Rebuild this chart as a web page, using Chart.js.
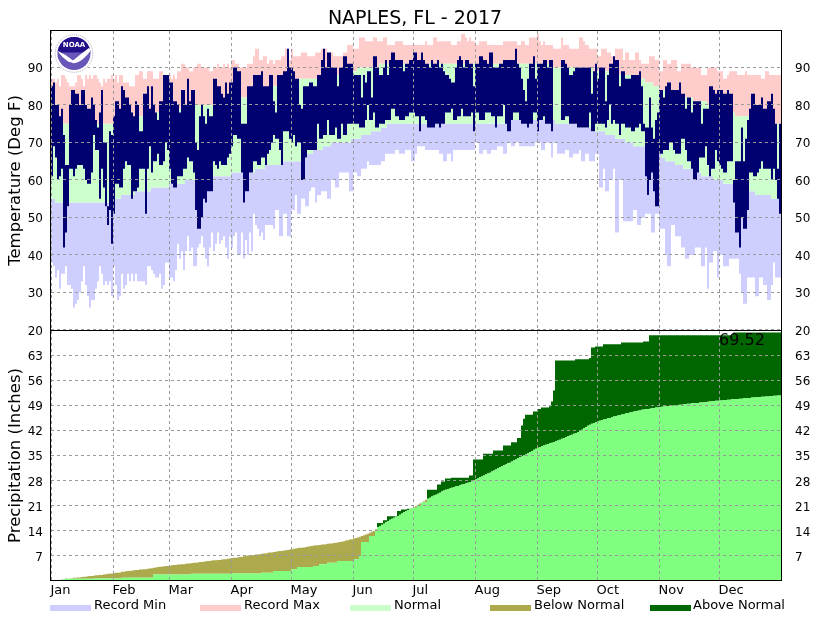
<!DOCTYPE html>
<html>
<head>
<meta charset="utf-8">
<title>NAPLES, FL - 2017</title>
<script src="https://cdn.jsdelivr.net/npm/chart.js@4/dist/chart.umd.min.js"></script>
<style>
  html, body { margin: 0; padding: 0; background: #fff; }
  canvas { display: block; }
</style>
</head>
<body>
<canvas id="climateChart" width="830" height="620"></canvas>
<script>
// Tick labels
const months = ['Jan', 'Feb', 'Mar', 'Apr', 'May', 'Jun', 'Jul', 'Aug', 'Sep', 'Oct', 'Nov', 'Dec'];
const monthStarts = [0, 31, 59, 90, 120, 151, 181, 212, 243, 273, 304, 334];
const tempTicks = [20, 30, 40, 50, 60, 70, 80, 90];
const precipTicks = [7, 14, 21, 28, 35, 42, 49, 56, 63];
const legendNames = ['Record Min', 'Record Max', 'Normal', 'Below Normal', 'Above Normal'];
const precipTotal = '69.52';

// Daily temperatures (Deg F), ten days per row
const recordMin = [
  38,37,34,36,31,35,35,37,32,32, 31,26,27,28,30,33,37,32,29,26,
  28,28,31,33,37,35,32,33,32,33, 29,37,32,28,29,35,31,32,35,33,
  35,33,35,33,33,33,33,32,37,37, 36,35,34,34,35,31,32,38,38,34,
  34,33,36,43,39,41,36,41,45,41, 42,37,37,42,43,45,42,39,37,42,
  46,41,43,46,43,44,45,42,39,45, 42,45,46,40,40,46,39,44,40,46,
  41,51,48,47,45,46,44,48,48,48, 48,47,52,52,45,45,51,51,45,45,
  52,52,56,51,51,55,55,53,53,57, 58,58,54,56,56,57,57,57,55,55,
  60,60,58,58,62,62,62,62,62,57, 57,62,62,61,61,63,63,63,65,64,
  64,64,64,64,64,65,65,67,67,67, 67,67,68,68,67,67,67,68,68,68,
  65,65,67,69,69,69,69,68,68,68, 68,68,68,68,67,67,65,65,67,67,
  65,68,68,68,68,68,68,68,68,68, 68,68,70,70,67,67,68,68,67,67,
  68,68,68,69,69,69,67,67,70,70, 69,69,70,70,69,69,69,69,69,69,
  69,69,70,70,70,68,68,70,70,70, 66,70,70,67,67,67,67,68,68,66,
  66,67,67,67,68,65,65,67,67,65, 65,65,67,67,58,58,63,57,57,60,
  60,63,46,46,60,60,49,49,49,49, 49,52,52,48,48,50,50,51,51,51,
  46,46,51,51,47,47,47,40,37,37, 48,48,45,45,45,42,42,39,39,40,
  40,40,42,42,42,37,37,42,31,38, 38,41,41,34,40,40,37,37,37,39,
  39,39,39,39,35,30,27,27,34,34, 34,34,29,29,34,34,32,32,28,28,
  32,38,34,34,34
];
const recordMax = [
  87,87,86,87,85,88,88,87,86,85, 85,85,86,88,88,87,85,88,87,88,
  87,88,88,87,86,85,87,86,87,87, 88,87,88,86,88,88,86,86,86,85,
  85,85,88,88,89,89,87,87,89,89, 89,87,87,87,89,89,88,88,87,88,
  87,88,87,89,89,91,91,90,90,89, 89,90,90,91,91,90,90,90,90,89,
  89,90,90,91,90,90,91,90,91,90, 92,92,91,91,90,90,90,90,91,91,
  91,93,95,95,92,92,93,93,91,92, 92,91,92,92,92,93,93,95,95,92,
  95,93,93,93,93,94,94,94,93,93, 93,93,94,94,94,95,95,95,94,94,
  94,93,93,93,93,93,94,94,96,96, 96,95,95,95,98,98,98,97,97,97,
  97,98,98,97,97,97,98,98,96,96, 96,96,97,97,97,97,96,96,96,96,
  96,96,96,96,96,96,96,97,96,96, 96,98,98,97,97,97,97,97,97,97,
  96,96,96,97,97,99,99,98,97,98, 97,97,96,96,97,97,97,97,96,96,
  96,96,96,96,96,96,97,97,97,97, 97,97,97,96,96,97,97,96,96,98,
  98,98,98,99,97,96,97,96,96,96, 96,95,95,95,95,98,96,96,96,95,
  95,95,95,95,98,98,97,96,96,95, 95,95,95,93,93,95,95,95,94,94,
  93,92,95,95,95,95,92,94,94,92, 92,92,94,94,92,91,91,91,91,93,
  93,93,92,92,89,89,92,92,91,91, 92,92,92,89,89,91,91,91,91,91,
  90,90,90,90,90,88,88,88,90,90, 90,90,90,89,89,89,87,87,88,89,
  89,89,89,88,88,88,88,89,88,88, 88,88,88,88,88,87,87,89,89,88,
  88,88,88,88,88
];
const normalLow = [
  55,55,54,54,54,54,54,54,54,54, 54,54,54,54,54,54,54,54,54,54,
  54,54,54,54,54,54,54,54,54,54, 54,54,55,55,55,56,56,56,56,56,
  56,56,57,57,57,57,57,57,57,57, 58,58,58,58,58,58,58,58,58,59,
  59,59,59,59,59,59,59,60,60,60, 60,60,60,60,60,60,60,60,60,60,
  61,61,61,61,61,61,61,61,61,61, 62,62,62,62,62,62,62,62,62,62,
  62,62,63,63,63,63,63,64,64,64, 64,64,64,64,64,64,65,65,65,65,
  65,65,65,65,65,65,66,66,67,67, 67,68,68,68,68,68,69,69,69,69,
  70,70,70,70,70,70,70,70,70,70, 71,71,71,71,71,72,72,72,72,72,
  73,73,73,73,73,74,74,74,75,75, 75,75,75,75,75,75,75,75,75,75,
  75,75,75,75,75,75,75,75,75,75, 75,75,75,75,75,75,75,75,75,75,
  75,75,75,75,75,75,75,75,75,75, 75,75,75,75,75,75,75,75,75,75,
  75,75,75,75,75,75,75,75,75,75, 76,76,76,76,76,75,75,75,75,75,
  76,76,76,76,76,76,76,76,76,76, 76,76,75,75,75,75,75,75,75,75,
  75,75,75,74,74,74,74,74,74,74, 73,73,73,73,73,73,73,72,72,72,
  72,72,71,71,71,71,71,70,70,70, 70,69,69,69,69,69,69,68,68,68,
  68,68,68,67,67,66,66,65,65,65, 65,65,64,64,64,64,63,63,63,63,
  63,62,62,62,62,61,61,61,61,61, 61,60,60,60,60,60,59,59,59,59,
  59,59,59,59,58,58,58,58,58,57, 57,57,56,56,56,56,56,56,56,56,
  55,55,55,55,55
];
const normalHigh = [
  75,75,75,75,75,75,75,75,75,75, 75,75,75,75,75,75,75,75,75,75,
  75,75,75,75,75,75,75,75,75,75, 75,75,75,75,75,75,75,75,76,76,
  76,76,76,77,77,77,77,77,77,77, 77,78,78,78,78,78,78,78,78,78,
  78,79,79,79,79,79,79,79,79,79, 79,80,80,80,80,80,80,80,80,80,
  80,80,80,81,81,81,81,81,81,81, 81,82,82,82,82,82,82,82,82,82,
  83,83,83,83,83,83,84,84,84,84, 84,85,85,85,85,85,85,85,86,86,
  86,86,86,86,87,87,87,87,87,87, 87,87,87,87,87,87,87,88,88,88,
  88,88,88,88,88,89,89,89,89,89, 89,89,89,90,90,90,90,90,90,90,
  90,90,90,90,91,91,91,91,91,91, 91,91,91,91,91,91,91,91,91,91,
  91,91,91,91,91,91,91,91,91,91, 91,91,91,91,91,91,91,91,91,91,
  91,91,91,91,91,91,91,91,91,91, 91,91,91,91,91,91,91,91,91,91,
  91,91,91,91,91,91,91,91,91,91, 91,91,91,91,91,91,91,91,91,91,
  91,91,91,91,91,91,91,91,91,91, 90,90,90,90,90,90,90,90,90,90,
  90,90,90,90,90,90,90,90,90,90, 90,89,89,89,89,89,89,89,89,89,
  89,89,89,88,88,88,88,88,88,88, 88,87,87,87,87,87,87,86,86,86,
  86,85,85,85,84,84,84,84,84,83, 83,83,83,83,83,82,82,82,82,82,
  82,81,81,81,81,81,81,81,80,80, 80,80,80,80,79,79,79,79,78,78,
  78,78,77,77,77,77,77,77,77,77, 77,76,76,76,76,76,76,75,75,75,
  75,75,75,75,75
];
// Sep 8-11 has no observations (null)
const actualLow = [
  61,69,66,60,61,63,42,46,53,63, 63,61,63,64,64,64,63,60,59,59,
  62,72,68,68,55,63,58,53,48,52, 43,51,59,59,58,58,63,65,64,64,
  55,57,57,58,63,63,63,51,63,69, 62,65,65,67,64,64,65,70,68,63,
  59,58,58,61,61,61,63,63,66,65, 65,62,52,47,47,50,55,54,57,57,
  57,65,64,63,65,64,64,64,66,67, 69,72,72,71,71,62,54,57,57,62,
  62,65,65,64,64,66,66,64,67,68, 70,72,71,71,68,64,73,73,73,71,
  70,72,69,70,70,60,60,66,68,68, 68,68,68,75,71,71,72,72,76,72,
  72,72,74,71,71,75,72,72,75,75, 75,75,75,75,74,74,74,76,80,76,
  76,78,74,74,75,75,75,76,76,76, 79,79,77,77,76,76,76,77,77,78,
  78,78,77,77,73,77,77,76,74,74, 74,74,75,75,74,75,75,78,78,78,
  79,76,76,77,77,79,77,77,77,77, 78,73,78,78,76,76,76,78,78,78,
  77,77,74,77,77,77,80,75,73,73, 76,78,78,78,76,75,75,75,74,75,
  75,78,78,73,76,76,77,75,75,75, 73,null,null,null,null,76,76,77,77,75,
  75,75,75,74,74,74,74,74,74,78, 73,73,75,75,75,75,75,74,76,80,
  75,76,75,75,72,75,75,74,74,74, 73,73,74,74,75,73,73,61,56,60,
  62,57,53,53,67,67,68,68,68,70, 70,68,67,67,67,71,71,68,65,65,
  63,60,60,62,66,66,66,69,64,61, 63,63,68,65,64,63,62,62,65,65,
  65,54,46,46,42,50,47,47,52,62, 62,61,61,62,63,65,63,63,63,63,
  60,63,60,55,51
];
const actualHigh = [
  85,86,80,80,77,79,72,64,64,80, 84,84,83,83,80,84,84,80,79,79,
  82,80,76,74,78,84,70,70,53,73, 72,77,81,81,79,85,84,82,82,80,
  78,77,81,80,73,73,83,83,85,79, 85,80,78,76,81,81,88,88,88,86,
  86,81,81,80,78,84,84,80,87,81, 84,84,70,68,77,80,77,75,79,77,
  77,87,87,85,85,83,82,86,83,86, 86,90,90,89,89,75,75,75,85,85,
  85,88,88,88,88,89,85,85,85,88, 88,81,78,88,88,88,89,89,95,90,
  90,89,87,87,80,79,85,85,85,86, 86,85,85,88,88,92,95,90,94,94,
  90,90,90,85,90,90,93,93,91,91, 91,88,88,88,88,82,88,86,89,89,
  82,93,93,90,88,88,90,92,88,92, 94,94,92,92,92,92,89,91,91,92,
  92,94,94,92,92,94,92,91,91,90, 92,91,91,92,90,91,89,88,88,87,
  86,86,90,92,93,92,90,92,92,91, 91,85,91,91,93,93,92,92,91,94,
  94,90,90,90,91,91,92,92,92,92, 92,92,95,91,90,87,84,81,87,91,
  91,93,87,91,91,91,92,92,90,92, 92,null,null,null,null,92,92,91,90,88,
  88,89,90,90,90,90,90,90,90,90, 83,89,91,87,90,90,90,81,88,91,
  91,93,92,92,85,89,89,87,87,87, 88,88,88,88,89,85,75,74,74,82,
  74,71,76,78,84,84,82,85,86,86, 84,84,84,84,86,83,83,79,82,82,
  78,81,81,81,81,75,79,79,79,85, 85,84,83,84,84,84,83,83,84,83,
  83,60,65,65,65,74,65,71,76,79, 83,83,80,80,80,82,79,79,81,81,
  83,79,75,63,75
];

// Accumulated precipitation (Inches), ten days per row
const precipNormal = [
  0,0.1,0.2,0.2,0.3,0.4,0.5,0.5,0.6,0.7, 0.8,0.9,0.9,1,1,1.1,1.2,1.2,1.3,1.4,
  1.4,1.5,1.6,1.6,1.7,1.7,1.8,1.9,2,2, 2.1,2.2,2.3,2.3,2.4,2.6,2.6,2.7,2.8,2.9,
  2.9,3,3.1,3.1,3.2,3.2,3.3,3.3,3.4,3.5, 3.6,3.7,3.8,3.9,4,4,4.1,4.2,4.2,4.3,
  4.4,4.5,4.5,4.6,4.6,4.7,4.7,4.8,4.9,4.9, 5,5.1,5.1,5.2,5.3,5.3,5.4,5.5,5.6,5.6,
  5.7,5.8,5.8,5.9,5.9,6,6.1,6.1,6.2,6.3, 6.4,6.5,6.5,6.6,6.7,6.8,6.9,7,7.1,7.2,
  7.2,7.3,7.4,7.4,7.5,7.6,7.7,7.7,7.9,8, 8,8.1,8.2,8.3,8.4,8.4,8.5,8.6,8.7,8.8,
  8.9,9,9.1,9.2,9.3,9.3,9.4,9.5,9.6,9.7, 9.8,9.9,10,10,10.1,10.2,10.2,10.3,10.4,10.5,
  10.5,10.6,10.7,10.8,10.9,11,11.1,11.3,11.4,11.6, 11.7,11.9,12,12.2,12.4,12.6,12.8,13,13.2,13.5,
  13.8,14,14.5,15,15.4,15.7,16,16.4,16.8,17.1, 17.4,17.7,18,18.2,18.5,18.9,19.2,19.5,19.8,20.1,
  20.4,20.7,21,21.3,21.7,22,22.3,22.7,23,23.3, 23.6,23.9,24.1,24.4,24.7,25,25.3,25.5,25.7,25.9,
  26.1,26.3,26.5,26.6,26.8,27,27.1,27.3,27.5,27.6, 27.8,28.1,28.4,28.7,29,29.2,29.5,29.8,30.1,30.3,
  30.6,30.9,31.2,31.5,31.8,32.1,32.4,32.6,32.9,33.1, 33.4,33.7,34,34.3,34.6,34.8,35.1,35.4,35.7,36,
  36.3,36.7,37,37.3,37.5,37.7,37.9,38.1,38.3,38.5, 38.7,38.9,39.1,39.3,39.5,39.8,40,40.2,40.5,40.7,
  40.9,41.2,41.4,41.6,42,42.3,42.7,43,43.4,43.7, 44,44.2,44.4,44.6,44.8,45,45.2,45.3,45.5,45.6,
  45.8,46,46.1,46.3,46.4,46.6,46.7,46.9,47,47.1, 47.3,47.4,47.5,47.6,47.7,47.9,48,48.1,48.1,48.2,
  48.3,48.4,48.5,48.5,48.6,48.7,48.8,48.9,48.9,49, 49,49.1,49.2,49.2,49.3,49.3,49.4,49.5,49.6,49.6,
  49.7,49.7,49.8,49.8,49.9,49.9,50,50,50.1,50.2, 50.3,50.3,50.4,50.4,50.5,50.5,50.6,50.6,50.7,50.7,
  50.8,50.8,50.9,50.9,51,51,51.1,51.1,51.2,51.2, 51.3,51.3,51.4,51.4,51.4,51.5,51.5,51.6,51.6,51.7,
  51.7,51.8,51.8,51.9,51.9
];
const precipActual = [
  0,0,0,0,0,0.5,0.5,0.6,0.6,0.6, 0.6,0.6,0.6,0.6,0.6,0.6,0.6,0.6,0.6,0.6,
  0.6,0.7,0.7,0.7,0.7,0.7,0.7,0.7,0.7,0.7, 0.7,0.7,0.7,0.7,0.7,0.9,0.9,0.9,0.9,0.9,
  0.9,0.9,0.9,0.9,0.9,0.9,0.9,0.9,0.9,0.9, 0.9,1.8,1.8,1.8,1.8,1.8,1.8,1.8,1.8,1.8,
  1.8,1.8,1.8,1.8,1.8,1.8,1.8,1.8,1.8,1.8, 2,2,2,2,2,2,2,2,2,2,
  2,2,2,2,2,2,2,2,2,2, 2.1,2.1,2.1,2.1,2.1,2.1,2.1,2.1,2.1,2.1,
  2.1,2.1,2.1,2.1,2.1,2.3,2.3,2.3,2.3,2.3, 2.3,2.8,2.8,2.8,2.8,2.8,2.8,2.8,2.8,2.8,
  3.3,3.3,3.3,3.9,3.9,3.9,3.9,3.9,3.9,3.9, 3.9,4.2,4.2,4.2,4.7,4.7,4.7,4.7,5.1,5.1,
  5.1,5.1,5.1,5.6,5.6,5.6,5.6,5.6,5.6,5.6, 5.6,6.1,6.1,6.1,7,10.9,10.9,10.9,10.9,12.6,
  12.6,12.6,14.2,16.2,16.2,16.2,17,17,18.1,18.1, 18.1,18.1,18.1,19.6,19.6,20,20,20,20.2,20.2,
  20.4,20.5,20.5,21,21,22,22,22,25.5,25.5, 25.5,25.5,25.5,27,27,27.8,27.8,28.7,28.7,28.7,
  28.9,28.9,28.9,28.9,28.9,28.9,28.9,28.9,28.9,29.5, 29.5,34,34,34,34,34,35.6,35.6,35.6,35.6,
  35.6,36.5,36.5,36.5,36.5,36.5,37.9,37.9,37.9,37.9, 38.8,38.8,38.8,40,40,43.5,45.4,46.5,46.5,46.5,
  46.5,47.4,47.4,48.1,48.1,48.5,48.5,48.5,48.5,48.9, 50.2,53.3,61.7,61.7,61.7,61.7,61.7,61.7,61.7,61.7,
  61.7,61.7,62,62,62,62,62,62,62,62.4, 65.3,65.3,65.6,65.6,65.6,65.6,66.2,66.2,66.2,66.2,
  66.2,66.2,66.2,66.2,66.2,66.7,66.7,66.7,66.7,66.7, 66.7,66.7,66.7,66.7,66.7,66.7,67,67,67,68.7,
  68.7,68.7,68.7,68.7,68.7,68.7,68.7,68.7,68.7,68.7, 68.7,68.7,68.7,68.7,68.7,68.7,68.7,68.7,68.7,68.7,
  68.7,68.7,68.7,68.7,68.7,68.7,68.7,68.7,68.7,68.7, 68.7,68.7,68.7,68.7,68.7,68.7,68.7,68.7,68.7,68.7,
  68.7,69.52,69.52,69.52,69.52,69.52,69.52,69.52,69.52,69.52, 69.52,69.52,69.52,69.52,69.52,69.52,69.52,69.52,69.52,69.52,
  69.52,69.52,69.52,69.52,69.52
];

const FONT = "'DejaVu Sans', sans-serif";
const GRID_COLOR = '#9a9a9a';
const colors = {
  recordMin: '#cfcfff', recordMax: '#ffcccc', normal: '#ccffcc', actual: '#000070',
  precipBase: '#80ff80', below: '#adaa4e', above: '#006600'
};
const legendColors = [colors.recordMin, colors.recordMax, colors.normal, colors.below, colors.above];
// swatch x, text x
const legendSlots = [[50, 94], [200, 244], [350, 394], [490, 534], [650, 693]];

const days = recordMin.map((v, i) => i);
const band = (lo, hi) => lo.map((v, i) => (v == null ? null : [v, hi[i]]));

const barDefaults = {
  barPercentage: 1, categoryPercentage: 1, grouped: false,
  borderWidth: 0, borderSkipped: false, inflateAmount: 0
};
const tempBars = (label, data, color, order) =>
  ({ ...barDefaults, label, data, backgroundColor: color, yAxisID: 'yTemp', order });
const precipBars = (label, data, color) =>
  ({ ...barDefaults, label, data, backgroundColor: color, yAxisID: 'yPrecip', order: 5 });

// Frame, year total, legend and logo go on top of everything else
const furniture = {
  id: 'furniture',
  afterDraw(chart) {
    const { ctx, chartArea: area, scales } = chart;
    ctx.save();

    // frame and panel divider
    ctx.strokeStyle = '#000';
    ctx.lineWidth = 1;
    ctx.strokeRect(area.left - 0.5, area.top - 0.5, area.width + 1, area.height);
    ctx.beginPath();
    ctx.moveTo(area.left, Math.round(scales.yTemp.bottom) + 0.5);
    ctx.lineTo(area.right, Math.round(scales.yTemp.bottom) + 0.5);
    ctx.stroke();

    // year total
    ctx.fillStyle = '#000';
    ctx.font = '16px ' + FONT;
    ctx.textAlign = 'left';
    ctx.textBaseline = 'middle';
    ctx.fillText(precipTotal, 719, 340.5);

    // legend
    ctx.font = '13px ' + FONT;
    legendNames.forEach((name, i) => {
      const [sx, tx] = legendSlots[i];
      ctx.fillStyle = legendColors[i];
      ctx.fillRect(sx, 605, 41, 6);
      ctx.fillStyle = '#000';
      ctx.fillText(name, tx, 605.5);
    });

    drawLogo(ctx, 74, 53.5);
    ctx.restore();
  }
};

function drawLogo(ctx, cx, cy) {
  ctx.save();
  ctx.fillStyle = '#fff';
  ctx.beginPath();
  ctx.arc(cx, cy, 19.5, 0, Math.PI * 2);
  ctx.fill();
  ctx.strokeStyle = '#a9a6c4';
  ctx.setLineDash([1, 1]);
  ctx.lineWidth = 1;
  ctx.beginPath();
  ctx.arc(cx, cy, 18.8, 0, Math.PI * 2);
  ctx.stroke();
  ctx.setLineDash([]);

  ctx.beginPath();
  ctx.arc(cx, cy, 16.5, 0, Math.PI * 2);
  ctx.clip();
  ctx.fillStyle = '#6a55b8';
  ctx.fillRect(cx - 18, cy - 18, 36, 36);
  ctx.fillStyle = '#22108a';
  ctx.fillRect(cx - 18, cy - 18, 36, 17);
  // white gull shape
  ctx.fillStyle = '#fff';
  ctx.beginPath();
  ctx.moveTo(cx - 17, cy - 3);
  ctx.quadraticCurveTo(cx - 8, cy + 1, cx - 1, cy + 7);
  ctx.quadraticCurveTo(cx + 6, cy + 1, cx + 17, cy - 7);
  ctx.lineTo(cx + 17, cy - 3);
  ctx.quadraticCurveTo(cx + 8, cy + 8, cx + 3, cy + 9);
  ctx.quadraticCurveTo(cx - 2, cy + 11, cx - 6, cy + 8);
  ctx.quadraticCurveTo(cx - 12, cy + 4, cx - 17, cy - 3);
  ctx.fill();
  ctx.fillStyle = '#6a55b8';
  ctx.beginPath();
  ctx.moveTo(cx - 17, cy + 1);
  ctx.quadraticCurveTo(cx - 8, cy + 10, cx - 1, cy + 9);
  ctx.quadraticCurveTo(cx - 8, cy + 13, cx - 17, cy + 4);
  ctx.fill();
  // name
  ctx.fillStyle = '#fff';
  ctx.font = "bold 7px " + FONT;
  ctx.textAlign = 'center';
  ctx.textBaseline = 'middle';
  ctx.fillText('NOAA', cx, cy - 8);
  ctx.restore();
}

const hiddenGrid = { display: false };
const noBorder = { display: false };
const tickFont = { family: FONT, size: 12 };
const gridLines = { color: GRID_COLOR, lineWidth: 1, drawTicks: false, z: 1 };
const dashed = { display: false, dash: [3, 3] };
const fitWidth = (w) => (scale) => { scale.width = w; };
const fixTicks = (values) => (scale) => { scale.ticks = values.map(value => ({ value })); };

new Chart(document.getElementById('climateChart').getContext('2d'), {
  type: 'bar',
  data: {
    labels: days,
    datasets: [
      tempBars('Actual', band(actualLow, actualHigh), colors.actual, 1),
      tempBars('Normal', band(normalLow, normalHigh), colors.normal, 2),
      tempBars('Record Max', band(normalHigh, recordMax), colors.recordMax, 3),
      tempBars('Record Min', band(recordMin, normalLow), colors.recordMin, 4),
      precipBars('Normal Precip', precipActual.map((v, i) => [0, Math.min(v, precipNormal[i])]), colors.precipBase),
      precipBars('Below Normal', precipActual.map((v, i) => (v < precipNormal[i] ? [v, precipNormal[i]] : null)), colors.below),
      precipBars('Above Normal', precipActual.map((v, i) => (v > precipNormal[i] ? [precipNormal[i], v] : null)), colors.above)
    ]
  },
  plugins: [furniture],
  options: {
    responsive: false,
    animation: false,
    events: [],
    plugins: {
      legend: { display: false },
      tooltip: { enabled: false },
      title: {
        display: true,
        text: 'NAPLES, FL - 2017',
        color: '#000',
        font: { family: FONT, size: 19, weight: 'normal', lineHeight: '22px' },
        padding: { top: 8, bottom: 1 }
      }
    },
    scales: {
      x: {
        offset: true,
        afterFit: (scale) => { scale.height = 39; },
        grid: {
          color: GRID_COLOR,
          drawTicks: false,
          offset: true,
          z: 1,
          lineWidth: (c) => (monthStarts.includes(c.index) ? 1 : 0)
        },
        border: dashed,
        ticks: {
          autoSkip: false,
          maxRotation: 0,
          align: 'start',
          padding: 2,
          labelOffset: -1.5,
          color: '#000',
          font: { family: FONT, size: 13 },
          callback: (value, i) => {
            const m = monthStarts.indexOf(i);
            return m >= 0 ? months[m] : '';
          }
        }
      },
      yTemp: {
        position: 'left',
        stack: 'left',
        stackWeight: 299,
        weight: 1,
        min: 20,
        max: 99.73,
        afterBuildTicks: fixTicks(tempTicks),
        afterFit: fitWidth(51),
        grid: gridLines,
        border: dashed,
        ticks: { padding: 8, labelOffset: 1.5, color: '#000', font: tickFont },
        title: {
          display: true,
          text: 'Temperature (Deg F)',
          color: '#000',
          font: { family: FONT, size: 16.5 },
          padding: { top: 6, bottom: 0 }
        }
      },
      yPrecip: {
        position: 'left',
        stack: 'left',
        stackWeight: 251,
        min: 0,
        max: 70.2,
        afterBuildTicks: fixTicks(precipTicks),
        afterFit: fitWidth(51),
        grid: gridLines,
        border: dashed,
        ticks: { padding: 8, labelOffset: 1.5, color: '#000', font: tickFont },
        title: {
          display: true,
          text: 'Precipitation (Inches)',
          color: '#000',
          font: { family: FONT, size: 16.5 },
          padding: { top: 6, bottom: 0 }
        }
      },
      yTempRight: {
        position: 'right',
        stack: 'right',
        stackWeight: 299,
        min: 20,
        max: 99.73,
        afterBuildTicks: fixTicks(tempTicks),
        afterFit: fitWidth(49),
        grid: hiddenGrid,
        border: noBorder,
        ticks: { padding: 6, labelOffset: 1.5, color: '#000', font: tickFont }
      },
      yPrecipRight: {
        position: 'right',
        stack: 'right',
        stackWeight: 251,
        min: 0,
        max: 70.2,
        afterBuildTicks: fixTicks(precipTicks),
        afterFit: fitWidth(49),
        grid: hiddenGrid,
        border: noBorder,
        ticks: { padding: 6, labelOffset: 1.5, color: '#000', font: tickFont }
      }
    }
  }
});
</script>
</body>
</html>
